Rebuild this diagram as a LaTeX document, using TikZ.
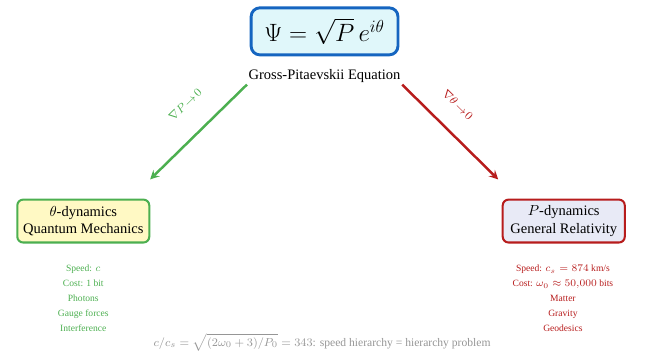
\documentclass[tikz,border=0pt]{standalone}
\usepackage{fontspec}
\setmainfont{Liberation Serif}
\definecolor{psiblue}{RGB}{21,101,192}
\definecolor{psifill}{RGB}{224,247,250}
\definecolor{qmgreen}{RGB}{76,175,80}
\definecolor{qmfill}{RGB}{255,249,196}
\definecolor{grred}{RGB}{183,28,28}
\definecolor{grfill}{RGB}{232,234,246}
\definecolor{notegray}{RGB}{150,150,150}
\begin{document}
\begin{tikzpicture}[>=stealth,
  dynbox/.style={draw,rounded corners,align=center,line width=1.4pt,minimum height=1.04cm},
  proplist/.style={align=center,font=\fontsize{6.6}{10.35}\selectfont},
  limitarrow/.style={->,line width=1.7pt}]
\useasboundingbox (-7.87,-7.86) rectangle (7.77,0.76);
\node[draw=psiblue,fill=psifill,rounded corners=6pt,line width=2pt,minimum width=3.56cm,minimum height=1.14cm,font=\LARGE] (psi) at (0,0) {$\Psi = \sqrt{P}\,e^{i\theta}$};
\node[inner sep=1pt] (gpe) at (0,-1.09) {Gross-Pitaevskii Equation};
\node[dynbox,draw=qmgreen,fill=qmfill,minimum width=3.2cm] (qm) at (-5.85,-4.6) {$\theta$-dynamics\\Quantum Mechanics};
\node[dynbox,draw=grred,fill=grfill,minimum width=2.96cm] (gr) at (5.8,-4.6) {$P$-dynamics\\General Relativity};
\coordinate (qmtip) at (-4.23,-3.59);
\coordinate (grtip) at (4.21,-3.59);

\draw[limitarrow,qmgreen] (gpe.south west) -- node[pos=0.43,sloped,above=13pt,font=\footnotesize] {$\nabla P\!\to\! 0$} (qmtip);
\draw[limitarrow,grred] (gpe.south east) -- node[pos=0.4,sloped,above=10pt,font=\footnotesize] {$\nabla\theta\!\to\! 0$} (grtip);

\node[proplist,text=qmgreen] (qmprops) at (-5.85,-6.48) {Speed: $c$\\Cost: 1 bit\\Photons\\Gauge forces\\Interference};
\node[proplist,text=grred] (grprops) at (5.78,-6.48) {Speed: $c_s = 874$ km/s\\Cost: $\omega_0 \approx 50{,}000$ bits\\Matter\\Gravity\\Geodesics};
\node[text=notegray,font=\fontsize{8}{10}\selectfont] (note) at (-0.06,-7.54) {$c/c_s = \sqrt{(2\omega_0+3)/P_0} = 343$: speed hierarchy = hierarchy problem};
\end{tikzpicture}
\end{document}
